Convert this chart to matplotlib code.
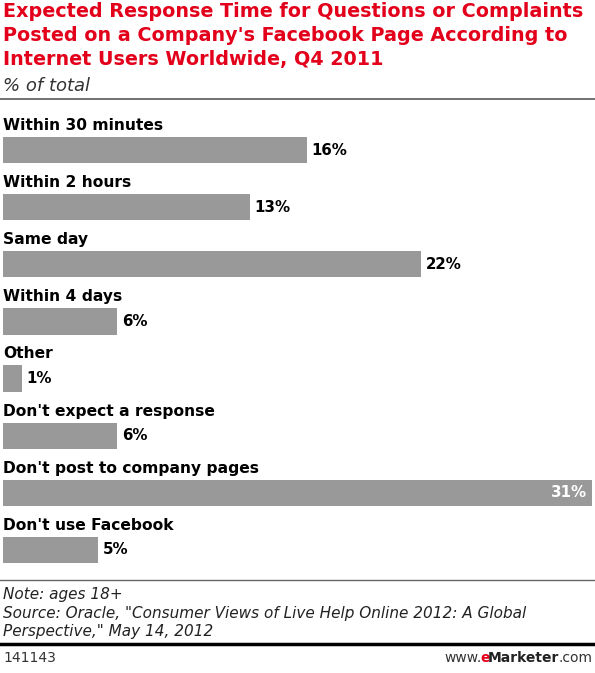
import matplotlib
matplotlib.use("Agg")
import matplotlib.pyplot as plt

# Data
categories = ["Within 30 minutes", "Within 2 hours", "Same day", "Within 4 days",
              "Other", "Don't expect a response", "Don't post to company pages",
              "Don't use Facebook"]
values = [16, 13, 22, 6, 1, 6, 31, 5]

title = ("Expected Response Time for Questions or Complaints\n"
         "Posted on a Company's Facebook Page According to\n"
         "Internet Users Worldwide, Q4 2011")
subtitle = "% of total"
note = ("Note: ages 18+\n"
        "Source: Oracle, \"Consumer Views of Live Help Online 2012: A Global\n"
        "Perspective,\" May 14, 2012")
chart_id = "141143"

W, H = 595, 673
plt.rcParams['font.family'] = 'DejaVu Sans'
fig = plt.figure(figsize=(W / 100, H / 100), dpi=100)


def fx(px):
    return px / W


def fy(py):
    return 1 - py / H


# title block
fig.text(fx(3), fy(2), title, color="#e2001a", fontsize=13.8, fontweight="bold",
         va="top", ha="left", linespacing=1.33)
fig.text(fx(3), fy(77), subtitle, color="#333333", fontsize=13, style="italic",
         va="top", ha="left")
fig.add_artist(plt.Line2D([0, 1], [fy(99), fy(99)], color="#666666", lw=1.3))

# bars
ax = fig.add_axes([fx(3), fy(578.5), fx(590), (578.5 - 121.5) / H])
ypos = list(range(len(categories)))
ax.barh(ypos, values, height=0.46, color="#999999")
ax.set_xlim(0, 31.05)
ax.set_ylim(len(categories) - 0.5, -0.5)
ax.axis("off")

for y, cat, v in zip(ypos, categories, values):
    ax.text(0, y - 0.43, cat, fontsize=11.2, fontweight="bold", va="center",
            ha="left", color="black")
    if v == max(values):
        ax.text(v - 0.25, y, f"{v}%", fontsize=10.8, fontweight="bold",
                va="center", ha="right", color="white")
    else:
        ax.text(v + 0.25, y, f"{v}%", fontsize=10.8, fontweight="bold",
                va="center", ha="left", color="black")

# footer
fig.add_artist(plt.Line2D([0, 1], [fy(580), fy(580)], color="#666666", lw=1.0))
fig.text(fx(3), fy(587), note, color="#222222", fontsize=11, style="italic",
         va="top", ha="left", linespacing=1.3)
fig.add_artist(plt.Line2D([0, 1], [fy(644), fy(644)], color="black", lw=2.5))
fig.text(fx(3), fy(658), chart_id, color="#333333", fontsize=10,
         va="center", ha="left")

# www.eMarketer.com, pieces laid out left to right then shifted to the right edge
renderer = fig.canvas.get_renderer()
parts = [("www.", "normal", "#333333"), ("e", "bold", "#e2001a"),
         ("Marketer", "bold", "#222222"), (".com", "normal", "#333333")]
pieces = []
xl = 0
for s, wt, c in parts:
    t = fig.text(fx(xl), fy(658), s, color=c, fontsize=10, fontweight=wt,
                 va="center", ha="left")
    pieces.append((t, xl))
    xl += t.get_window_extent(renderer).width - 1.5
shift = 592 - xl - 1.5
for t, x0 in pieces:
    t.set_x(fx(x0 + shift))

fig.savefig("out.png", dpi=100)
